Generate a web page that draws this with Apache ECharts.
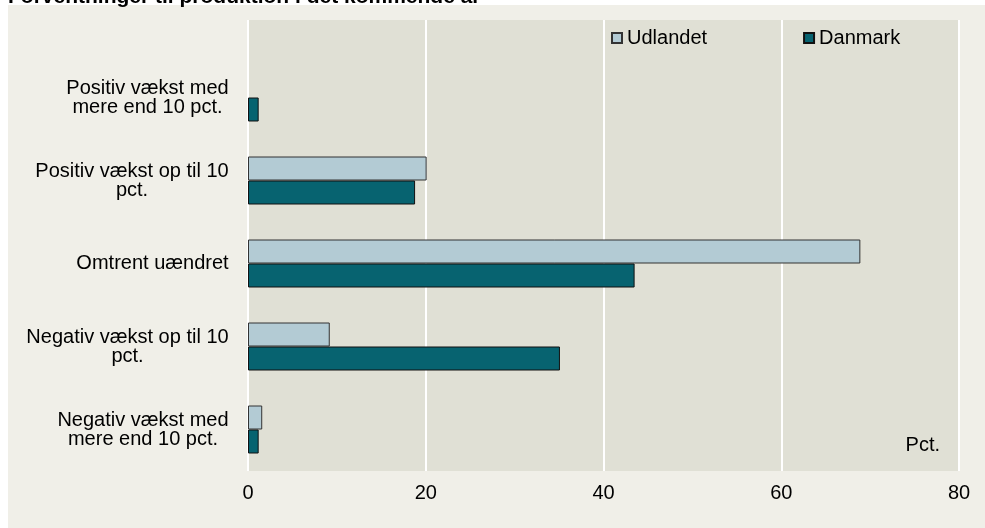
<!DOCTYPE html>
<html>
<head>
<meta charset="utf-8">
<script src="https://cdn.jsdelivr.net/npm/echarts@6/dist/echarts.min.js"></script>
<style>
  html, body { margin: 0; padding: 0; background: #ffffff; }
  #chart { width: 985px; height: 528px; }
</style>
</head>
<body>
<div id="chart"></div>
<script>
// kategorier (oppefra og ned)
var categories = [
  "Positiv vækst med\nmere end 10 pct.",
  "Positiv vækst op til 10\npct.",
  "Omtrent uændret",
  "Negativ vækst op til 10\npct.",
  "Negativ vækst med\nmere end 10 pct."
];
var udlandet = [null, 20.1, 68.9, 9.2, 1.6];
var danmark = [1.2, 18.8, 43.5, 35.1, 1.2];
var xTicks = [0, 20, 40, 60, 80];

var font = "'Liberation Sans', Arial, sans-serif";
var labelSize = 20;

// linjerne i hver etiket centreres under hinanden
var ctx = document.createElement("canvas").getContext("2d");
ctx.font = labelSize + "px " + font;
var rich = {};
categories.forEach(function (c, i) {
  var w = 0;
  c.split("\n").forEach(function (l) {
    w = Math.max(w, Math.ceil(ctx.measureText(l).width));
  });
  rich["c" + i] = { width: w, align: "center", fontSize: labelSize, lineHeight: 19, color: "#000" };
});

var chart = echarts.init(document.getElementById("chart"), null, { renderer: "canvas" });

chart.setOption({
  animation: false,
  textStyle: { fontFamily: font },
  graphic: [
    {
      type: "rect",
      shape: { x: 8, y: 5, width: 977, height: 523 },
      style: { fill: "#f0efe8" },
      z: -10
    },
    {
      type: "text",
      x: 8,
      y: 8,
      style: {
        text: "Forventninger til produktion i det kommende år",
        font: "bold 21px " + font,
        fill: "#000",
        textVerticalAlign: "bottom"
      },
      z: 10
    },
    {
      type: "text",
      x: 940,
      y: 445,
      style: {
        text: "Pct.",
        font: labelSize + "px " + font,
        fill: "#000",
        textAlign: "right",
        textVerticalAlign: "middle"
      },
      z: 10
    }
  ],
  legend: {
    left: 611,
    top: 28,
    padding: 0,
    itemWidth: 10,
    itemHeight: 10,
    itemGap: 96,
    icon: "rect",
    textStyle: { fontSize: labelSize, color: "#000" },
    data: ["Udlandet", "Danmark"]
  },
  grid: [
    // baggrund og gitterlinjer (hele plotområdet)
    {
      left: 248, right: 26, top: 20, bottom: 57,
      show: true, backgroundColor: "#e0e0d5", borderWidth: 0
    },
    // søjler
    {
      left: 248, right: 26, top: 56, bottom: 57
    }
  ],
  xAxis: [
    {
      gridIndex: 0,
      type: "value",
      min: xTicks[0],
      max: xTicks[xTicks.length - 1],
      interval: 20,
      axisLine: { show: false },
      axisTick: { show: false },
      splitLine: { lineStyle: { color: "#ffffff", width: 2 } },
      axisLabel: { fontSize: labelSize, color: "#000", margin: 12 }
    },
    {
      gridIndex: 1,
      type: "value",
      min: xTicks[0],
      max: xTicks[xTicks.length - 1],
      interval: 20,
      show: false
    }
  ],
  yAxis: [
    { gridIndex: 0, type: "value", show: false, min: 0, max: 1 },
    {
      gridIndex: 1,
      type: "category",
      inverse: true,
      data: categories,
      axisLine: { show: false },
      axisTick: { show: false },
      axisLabel: {
        fontSize: labelSize,
        color: "#000",
        margin: 19,
        lineHeight: 19,
        align: "right",
        formatter: function (value, idx) {
          return value.split("\n").map(function (l) {
            return "{c" + idx + "|" + l + "}";
          }).join("\n");
        },
        rich: rich
      }
    }
  ],
  series: [
    {
      name: "Udlandet",
      type: "bar",
      xAxisIndex: 1,
      yAxisIndex: 1,
      data: udlandet,
      barWidth: 24,
      barGap: "0%",
      itemStyle: { color: "#b3cbd4", borderColor: "#333", borderWidth: 1 }
    },
    {
      name: "Danmark",
      type: "bar",
      xAxisIndex: 1,
      yAxisIndex: 1,
      data: danmark,
      barWidth: 24,
      barGap: "0%",
      itemStyle: { color: "#076370", borderColor: "#111", borderWidth: 1 }
    }
  ]
});
</script>
</body>
</html>
